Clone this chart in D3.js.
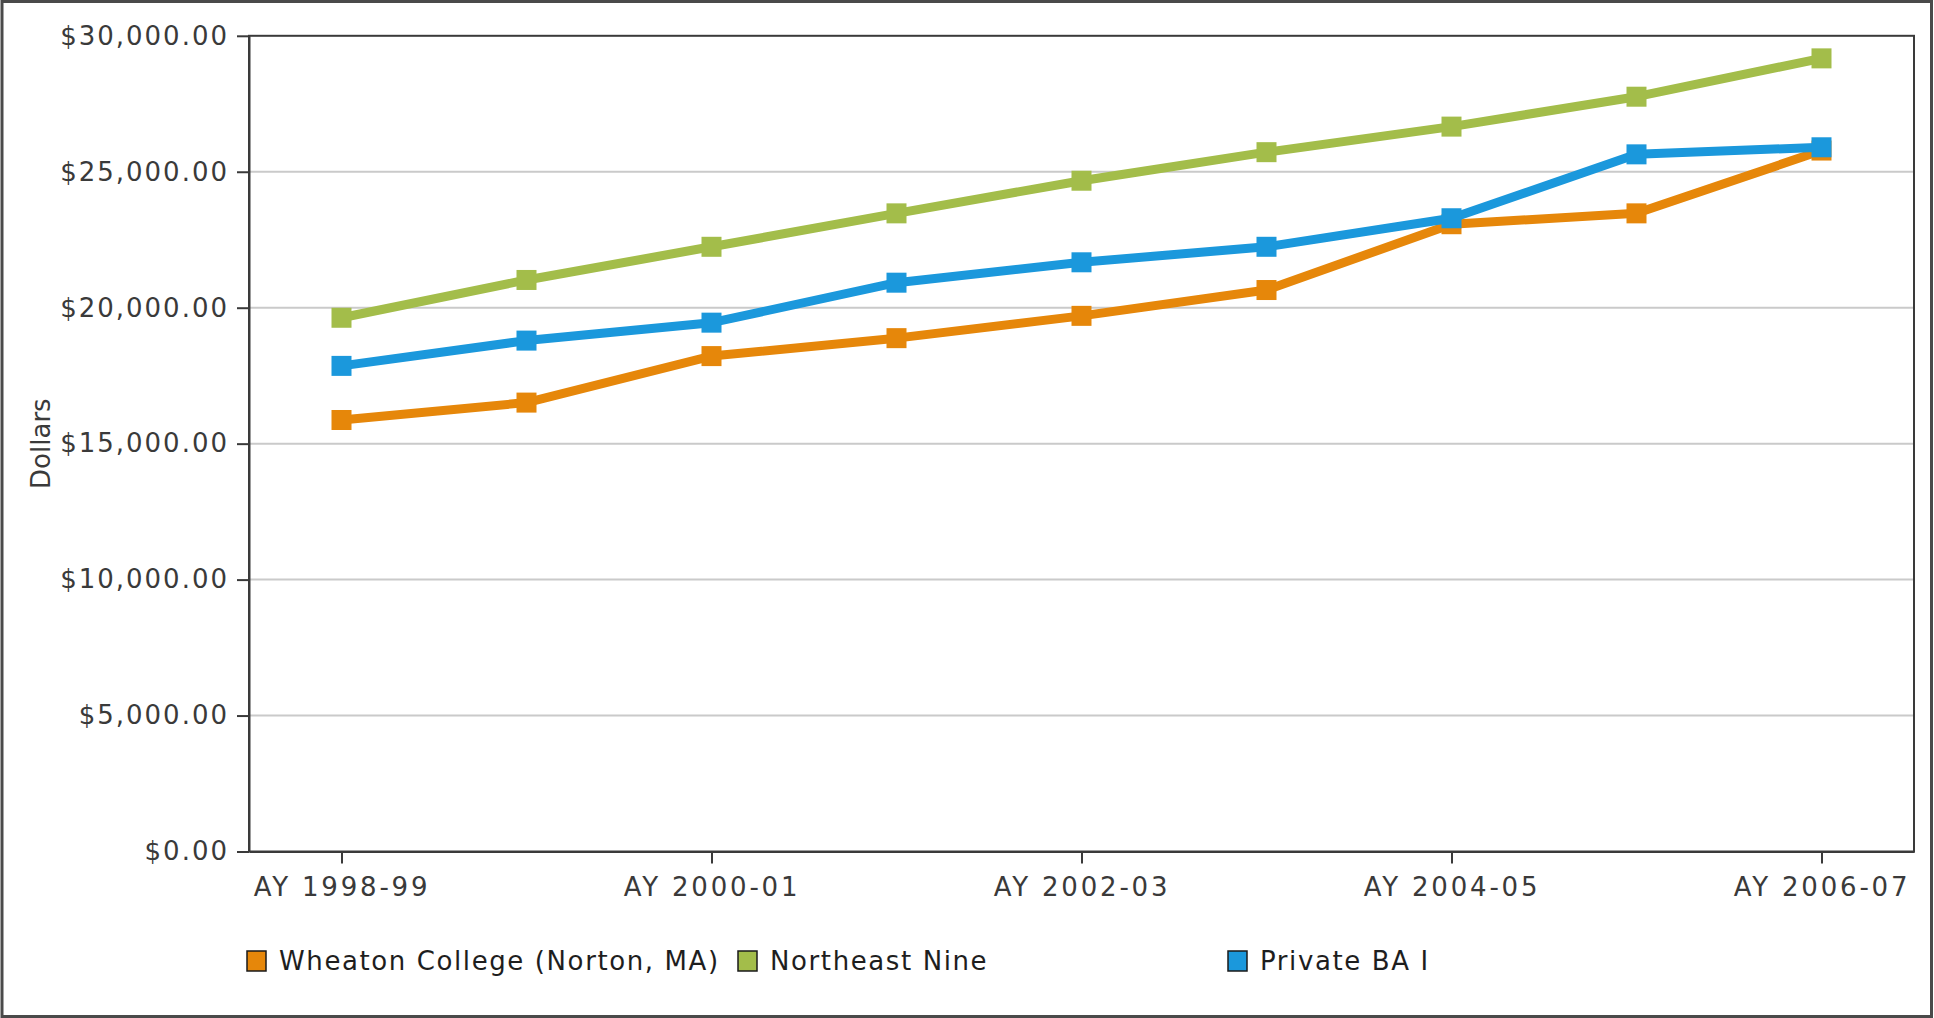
<!DOCTYPE html>
<html>
<head>
<meta charset="utf-8">
<script src="https://cdn.jsdelivr.net/npm/d3@7"></script>
<style>
  html, body { margin: 0; padding: 0; background: #fff; }
  svg { display: block; font-family: "DejaVu Sans", sans-serif; }
</style>
</head>
<body>
<svg id="chart" width="1934" height="1018"></svg>
<script>
// Academic years on the x axis
const categories = [
  "AY 1998-99", "AY 1999-00", "AY 2000-01", "AY 2001-02", "AY 2002-03",
  "AY 2003-04", "AY 2004-05", "AY 2005-06", "AY 2006-07"
];
// Only every other year carries a tick label
const xTickLabels = ["AY 1998-99", "AY 2000-01", "AY 2002-03", "AY 2004-05", "AY 2006-07"];
const yTickValues = [0, 5000, 10000, 15000, 20000, 25000, 30000];

const seriesNames = ["Wheaton College (Norton, MA)", "Northeast Nine", "Private BA I"];
const wheatonValues = [15870, 16510, 18220, 18880, 19700, 20650, 23070, 23470, 25780];
const northeastNineValues = [19630, 21020, 22240, 23470, 24670, 25720, 26660, 27760, 29170];
const privateBaValues = [17860, 18790, 19450, 20920, 21670, 22240, 23290, 25640, 25900];
const seriesColors = ["#e6870a", "#a3bd4a", "#1b98dc"];

const series = [
  { name: seriesNames[0], values: wheatonValues, color: seriesColors[0] },
  { name: seriesNames[1], values: northeastNineValues, color: seriesColors[1] },
  { name: seriesNames[2], values: privateBaValues, color: seriesColors[2] }
];

const W = 1934, H = 1018;
const plot = { left: 249, right: 1914, top: 35.8, bottom: 851.5 };
const textColor = "#3a3a3a";
const fontSize = 26;

const svg = d3.select("#chart");

// outer frame
svg.append("rect")
  .attr("x", 2).attr("y", 1.5)
  .attr("width", W - 4.5).attr("height", H - 3)
  .attr("fill", "#fff")
  .attr("stroke", "#4a4a4a").attr("stroke-width", 3);

const x = d3.scalePoint().domain(categories).range([plot.left, plot.right]).padding(0.5);
const y = d3.scaleLinear().domain([0, 30000]).range([plot.bottom, plot.top]);

// horizontal grid
svg.append("g")
  .selectAll("line")
  .data(yTickValues.filter(v => v > 0 && v < 30000))
  .join("line")
  .attr("x1", plot.left).attr("x2", plot.right)
  .attr("y1", d => y(d)).attr("y2", d => y(d))
  .attr("stroke", "#cacaca").attr("stroke-width", 2);

// plot frame
svg.append("rect")
  .attr("x", plot.left).attr("y", plot.top)
  .attr("width", plot.right - plot.left).attr("height", plot.bottom - plot.top)
  .attr("fill", "none").attr("stroke", "#3a3a3a").attr("stroke-width", 2);

// y axis
const yAxis = svg.append("g")
  .attr("transform", `translate(${plot.left},0)`)
  .call(d3.axisLeft(y).tickValues(yTickValues).tickFormat(d3.format("$,.2f"))
    .tickSize(12).tickSizeOuter(0).tickPadding(8));
yAxis.select(".domain").attr("stroke", "#3a3a3a").attr("stroke-width", 2);
yAxis.selectAll(".tick line").attr("stroke", "#3a3a3a").attr("stroke-width", 2);
yAxis.selectAll(".tick text")
  .attr("fill", textColor).attr("font-size", fontSize)
  .attr("font-family", "DejaVu Sans, sans-serif")
  .style("letter-spacing", "2px");

// x axis
const xAxis = svg.append("g")
  .attr("transform", `translate(0,${plot.bottom})`)
  .call(d3.axisBottom(x).tickValues(xTickLabels).tickSize(12).tickSizeOuter(0).tickPadding(14));
xAxis.select(".domain").attr("stroke", "#3a3a3a").attr("stroke-width", 2);
xAxis.selectAll(".tick line").attr("stroke", "#3a3a3a").attr("stroke-width", 2);
xAxis.selectAll(".tick text")
  .attr("fill", textColor).attr("font-size", fontSize)
  .attr("font-family", "DejaVu Sans, sans-serif")
  .style("letter-spacing", "2.8px");

// y axis title
svg.append("text")
  .attr("transform", `translate(50,${(plot.top + plot.bottom) / 2}) rotate(-90)`)
  .attr("text-anchor", "middle")
  .attr("fill", textColor).attr("font-size", fontSize)
  .text("Dollars");

// series lines and square markers
const line = d3.line().x((d, i) => x(categories[i])).y(d => y(d));
const markerSize = 20;

series.forEach(s => {
  const g = svg.append("g");
  g.append("path")
    .attr("d", line(s.values))
    .attr("fill", "none")
    .attr("stroke", s.color)
    .attr("stroke-width", 9)
    .attr("stroke-linejoin", "round");
  g.selectAll("rect")
    .data(s.values)
    .join("rect")
    .attr("x", (d, i) => x(categories[i]) - markerSize / 2)
    .attr("y", d => y(d) - markerSize / 2)
    .attr("width", markerSize).attr("height", markerSize)
    .attr("fill", s.color);
});

// legend
const legendX = [247, 738, 1228];
const legendY = 961;
const legend = svg.append("g");
series.forEach((s, i) => {
  const item = legend.append("g").attr("transform", `translate(${legendX[i]},${legendY})`);
  item.append("rect")
    .attr("x", 0).attr("y", -10)
    .attr("width", 19).attr("height", 20)
    .attr("fill", s.color)
    .attr("stroke", "#1a1a1a").attr("stroke-width", 1.5);
  item.append("text")
    .attr("x", 32).attr("y", 0)
    .attr("dy", "0.36em")
    .attr("fill", "#1e1e1e").attr("font-size", fontSize)
    .style("letter-spacing", "1.6px")
    .text(s.name);
});
</script>
</body>
</html>
